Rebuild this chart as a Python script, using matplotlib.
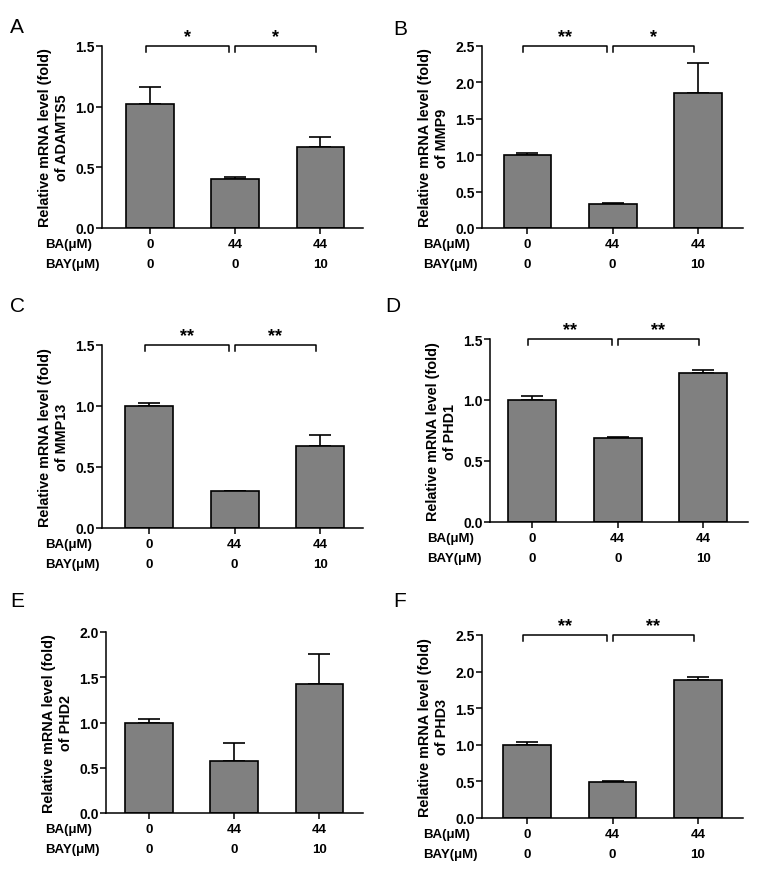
import numpy as np
import matplotlib
matplotlib.use("Agg")
from matplotlib import pyplot as plt
from matplotlib.ticker import FormatStrFormatter

plt.rcParams['font.family'] = ['Liberation Sans', 'DejaVu Sans']

panel_letters = ['A', 'B', 'C', 'D', 'E', 'F']
genes = ['ADAMTS5', 'MMP9', 'MMP13', 'PHD1', 'PHD2', 'PHD3']
ba_doses = ['0', '44', '44']
bay_doses = ['0', '0', '10']

# mean relative mRNA level and upper error (SEM) per group
adamts5_mean = [1.02, 0.405, 0.67]
adamts5_err = [0.14, 0.017, 0.08]
mmp9_mean = [1.00, 0.33, 1.85]
mmp9_err = [0.035, 0.02, 0.41]
mmp13_mean = [1.00, 0.30, 0.67]
mmp13_err = [0.025, 0.006, 0.09]
phd1_mean = [1.00, 0.685, 1.22]
phd1_err = [0.035, 0.012, 0.027]
phd2_mean = [1.00, 0.57, 1.42]
phd2_err = [0.04, 0.20, 0.34]
phd3_mean = [1.00, 0.49, 1.88]
phd3_err = [0.035, 0.015, 0.045]

y_max = [1.5, 2.5, 1.5, 1.5, 2.0, 2.5]
stars = [('*', '*'), ('**', '*'), ('**', '**'), ('**', '**'), None, ('**', '**')]

means = [adamts5_mean, mmp9_mean, mmp13_mean, phd1_mean, phd2_mean, phd3_mean]
errs = [adamts5_err, mmp9_err, mmp13_err, phd1_err, phd2_err, phd3_err]

W, H = 761, 878
# axes boxes in pixels: left, top, right, bottom
boxes = [(102, 47, 363, 229), (482, 47, 743, 229),
         (102, 346, 363, 529), (490, 340, 748, 523),
         (106, 633, 363, 814), (482, 636, 743, 819)]
xlims = [(-0.565, 2.5), (-0.534, 2.53), (-0.55, 2.5),
         (-0.49, 2.52), (-0.5, 2.51), (-0.53, 2.53)]
row_label_offset = [57, 59, 57, 63, 61, 59]
letter_pos = [(10, 18), (393, 20), (10, 297), (385, 297), (10, 592), (393, 592)]

PX = 0.72  # points per pixel at dpi 100


def draw_panel(ax, mean, err, ymax, star, gene, xlim, h_px, lab_off):
    x = np.arange(len(mean))
    ax.bar(x, mean, width=0.56, color='#808080', edgecolor='black', linewidth=1.2, zorder=2)
    ax.errorbar(x, mean, yerr=[np.zeros(len(err)), err], fmt='none', ecolor='black',
                elinewidth=1.2, capsize=8, capthick=1.2, zorder=1)
    ax.set_xlim(*xlim)
    ax.set_ylim(0, ymax)
    ax.set_yticks(np.arange(0, ymax + 0.01, 0.5))
    ax.yaxis.set_major_formatter(FormatStrFormatter('%.1f'))
    ax.set_xticks(x)
    ax.set_xticklabels([])
    for s in ['top', 'right']:
        ax.spines[s].set_visible(False)
    for s in ['left', 'bottom']:
        ax.spines[s].set_linewidth(1.1)
    ax.tick_params(axis='y', length=4, width=1.1, pad=1, labelsize=10)
    ax.tick_params(axis='x', length=4, width=1.1)
    for lab in ax.get_yticklabels():
        lab.set_fontweight('bold')
    ax.set_ylabel(f"Relative mRNA level (fold)\nof {gene}", fontsize=10.4,
                  fontweight='bold', labelpad=5)

    # dose table under the axis
    for i in x:
        ax.annotate(ba_doses[i], xy=(i, 0), xycoords=('data', 'axes fraction'),
                    xytext=(0, -16 * PX), textcoords='offset points', ha='center', va='center',
                    fontsize=9.5, fontweight='bold')
        ax.annotate(bay_doses[i], xy=(i, 0), xycoords=('data', 'axes fraction'),
                    xytext=(0, -36 * PX), textcoords='offset points', ha='center', va='center',
                    fontsize=9.5, fontweight='bold')
    ax.annotate('BA(μM)', xy=(0, 0), xycoords='axes fraction', xytext=(-lab_off * PX, -16 * PX),
                textcoords='offset points', ha='left', va='center', fontsize=9.5, fontweight='bold')
    ax.annotate('BAY(μM)', xy=(0, 0), xycoords='axes fraction', xytext=(-lab_off * PX, -36 * PX),
                textcoords='offset points', ha='left', va='center', fontsize=9.5, fontweight='bold')

    if star is None:
        return
    leg = ymax * 6 / h_px
    for (x0, x1), s in zip([(-0.05, 0.93), (1.0, 1.95)], star):
        ax.plot([x0, x0, x1, x1], [ymax - leg, ymax, ymax, ymax - leg], color='black',
                linewidth=1.1, clip_on=False)
        ax.annotate(s, xy=((x0 + x1) / 2, ymax), xycoords='data', xytext=(0, 9 * PX),
                    textcoords='offset points', ha='center', va='center',
                    fontsize=13, fontweight='bold')


fig = plt.figure(figsize=(W / 100, H / 100), dpi=100)
for k in range(6):
    l, t, r, b = boxes[k]
    ax = fig.add_axes([l / W, 1 - b / H, (r - l) / W, (b - t) / H])
    draw_panel(ax, means[k], errs[k], y_max[k], stars[k], genes[k], xlims[k], b - t,
               row_label_offset[k])
    lx, ly = letter_pos[k]
    fig.text(lx / W, 1 - ly / H, panel_letters[k], fontsize=15, ha='left', va='top')

fig.savefig('out.png', dpi=100)
